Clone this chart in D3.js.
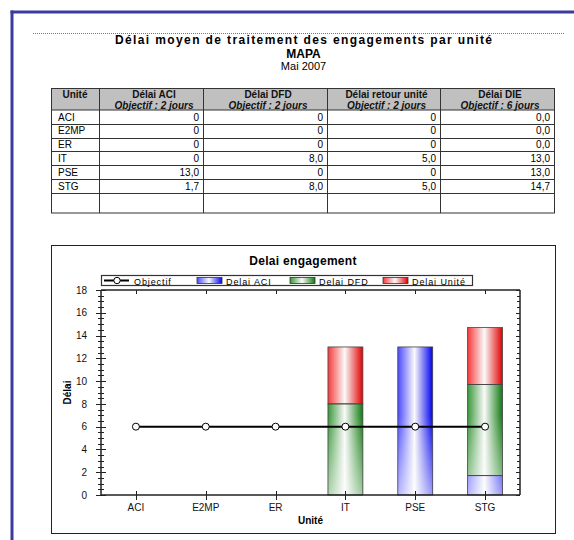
<!DOCTYPE html>
<html><head><meta charset="utf-8">
<script src="https://cdn.jsdelivr.net/npm/d3@7/dist/d3.min.js"></script>
<style>
html,body{margin:0;padding:0;background:#fff;}
svg{display:block;font-family:"Liberation Sans",Arial,sans-serif;}
</style></head>
<body>
<svg id="c" width="574" height="540"></svg>
<script>
// ---- data ----
const units = ["ACI","E2MP","ER","IT","PSE","STG"];
const delaiACI = [0,0,0,0,13.0,1.7];
const delaiDFD = [0,0,0,8.0,0,8.0];
const delaiUnite = [0,0,0,5.0,0,5.0];
const delaiDIE = [0,0,0,13.0,13.0,14.7];
const objectif = [6,6,6,6,6,6];
const tableHeaders = ["Unité","Délai ACI","Délai DFD","Délai retour unité","Délai DIE"];
const tableObjectives = ["","Objectif : 2 jours","Objectif : 2 jours","Objectif : 2 jours","Objectif : 6 jours"];
const yTicks = [0,2,4,6,8,10,12,14,16,18];
const seriesNames = ["Delai ACI","Delai DFD","Delai Unité"];
const seriesColors = [["#4a4aff","#0000ee"],["#3a963a","#107a10"],["#f43a3a","#e00000"]];

const svg = d3.select("#c");
const defs = svg.append("defs");

// page frame
svg.append("rect").attr("x",0).attr("y",0).attr("width",574).attr("height",540).attr("fill","#fff");
svg.append("line").attr("x1",10.5).attr("x2",574).attr("y1",12).attr("y2",12).attr("stroke","#3b3b9e").attr("stroke-width",3);
svg.append("line").attr("x1",12).attr("x2",12).attr("y1",10.5).attr("y2",540).attr("stroke","#3b3b9e").attr("stroke-width",3);
svg.append("line").attr("x1",33).attr("x2",564).attr("y1",33.5).attr("y2",33.5).attr("stroke","#777").attr("stroke-dasharray","1,1");

// titles
svg.append("text").attr("x",303.5).attr("y",44).attr("text-anchor","middle").attr("font-weight","bold").attr("font-size",12).attr("textLength",377).text("Délai moyen de traitement des engagements par unité");
svg.append("text").attr("x",303.5).attr("y",58).attr("text-anchor","middle").attr("font-weight","bold").attr("font-size",12).text("MAPA");
svg.append("text").attr("x",303.5).attr("y",70).attr("text-anchor","middle").attr("font-size",11).text("Mai 2007");

// ---- table ----
const colX = [51,99,203,327,440,554];
const headTop = 88.5, headBot = 110, rowH = 13.8, tableBot = 213;
const fmt = (v, keepDec) => (v===0 && !keepDec) ? "0" : d3.format(".1f")(v).replace(".",",");
const tableRows = units.map((u,i)=>[u, fmt(delaiACI[i]), fmt(delaiDFD[i]), fmt(delaiUnite[i]), fmt(delaiDIE[i],true)]);
const tg = svg.append("g");
tg.append("rect").attr("x",colX[0]).attr("y",headTop).attr("width",colX[5]-colX[0]).attr("height",headBot-headTop).attr("fill","#c0c0c0");
tg.append("rect").attr("x",colX[0]+0.5).attr("y",headTop).attr("width",colX[5]-colX[0]).attr("height",tableBot-headTop).attr("fill","none").attr("stroke","#333").attr("stroke-width",1);
colX.slice(1,5).forEach(x=>tg.append("line").attr("x1",x+0.5).attr("x2",x+0.5).attr("y1",headTop).attr("y2",tableBot).attr("stroke","#333"));
tg.append("line").attr("x1",colX[0]).attr("x2",colX[5]).attr("y1",headBot).attr("y2",headBot).attr("stroke","#333");
d3.range(1,units.length+1).forEach(i=>{
  const y = Math.round(headBot + i*rowH)+0.5;
  tg.append("line").attr("x1",colX[0]).attr("x2",colX[5]).attr("y1",y).attr("y2",y).attr("stroke","#333");
});
tableHeaders.forEach((h,j)=>{
  const cx = (colX[j]+colX[j+1])/2 + (j>0?3:0);
  tg.append("text").attr("x",cx).attr("y",98).attr("text-anchor","middle").attr("font-weight","bold").attr("font-size",10).attr("fill","#111").text(h);
  if(tableObjectives[j]) tg.append("text").attr("x",cx).attr("y",108.5).attr("text-anchor","middle").attr("font-weight","bold").attr("font-style","italic").attr("font-size",10).attr("fill","#111").text(tableObjectives[j]);
});
tableRows.forEach((r,i)=>{
  const y = headBot + i*rowH + 10.5;
  r.forEach((v,j)=>{
    if(j===0) tg.append("text").attr("x",colX[0]+7).attr("y",y).attr("font-size",10).text(v);
    else tg.append("text").attr("x",colX[j+1]-4).attr("y",y).attr("text-anchor","end").attr("font-size",10).text(v);
  });
});

// ---- chart ----
svg.append("rect").attr("x",51.5).attr("y",245.5).attr("width",504).attr("height",288).attr("fill","#fff").attr("stroke","#222");
svg.append("text").attr("x",303).attr("y",265).attr("text-anchor","middle").attr("font-weight","bold").attr("font-size",12).attr("letter-spacing",0.3).text("Delai engagement");

const L = 101, R = 520, T = 290, B = 495;
const x = d3.scaleBand().domain(units).range([L,R]).padding(0);
const y = d3.scaleLinear().domain([0,18]).range([B,T]);
const bw = x.bandwidth()*0.5;
const cx = u => x(u)+x.bandwidth()/2;

// gradients
seriesColors.forEach((c,k)=>{
  const g = defs.append("linearGradient").attr("id","g"+k).attr("x1","0").attr("x2","1").attr("y1","0").attr("y2","0");
  g.append("stop").attr("offset","0%").attr("stop-color",c[0]);
  g.append("stop").attr("offset","48%").attr("stop-color","#fafafa");
  g.append("stop").attr("offset","100%").attr("stop-color",c[1]);
});
const fade = defs.append("linearGradient").attr("id","fade").attr("gradientUnits","userSpaceOnUse")
  .attr("x1",0).attr("x2",0).attr("y1",y(7)).attr("y2",y(0));
fade.append("stop").attr("offset","0%").attr("stop-color","#fff").attr("stop-opacity",0);
fade.append("stop").attr("offset","100%").attr("stop-color","#fff").attr("stop-opacity",0.6);

const stackData = units.map((u,i)=>({unit:u, "0":delaiACI[i], "1":delaiDFD[i], "2":delaiUnite[i]}));
const stacked = d3.stack().keys(["0","1","2"])(stackData);
const bars = svg.append("g");
stacked.forEach((s,k)=>{
  bars.selectAll(null).data(s.filter(d=>d[1]-d[0]>0)).enter().append("rect")
    .attr("x",d=>cx(d.data.unit)-bw/2).attr("width",bw)
    .attr("y",d=>y(d[1])).attr("height",d=>y(d[0])-y(d[1]))
    .attr("fill","url(#g"+k+")");
});
// fade overlay
bars.selectAll(null).data(units.map((u,i)=>({u,t:delaiACI[i]+delaiDFD[i]+delaiUnite[i]})).filter(d=>d.t>0)).enter().append("rect")
  .attr("x",d=>cx(d.u)-bw/2).attr("width",bw).attr("y",d=>y(d.t)).attr("height",d=>y(0)-y(d.t)).attr("fill","url(#fade)");
stacked.forEach((s,k)=>{
  bars.selectAll(null).data(s.filter(d=>d[1]-d[0]>0)).enter().append("rect")
    .attr("x",d=>cx(d.data.unit)-bw/2).attr("width",bw)
    .attr("y",d=>y(d[1])).attr("height",d=>y(d[0])-y(d[1]))
    .attr("fill","none").attr("stroke","#444").attr("stroke-width",0.8);
});

// axes frame lines
const ax = svg.append("g").attr("stroke","#222").attr("fill","none");
ax.append("line").attr("x1",L).attr("x2",R).attr("y1",T).attr("y2",T).attr("stroke-width",1.5);
ax.append("line").attr("x1",L).attr("x2",R).attr("y1",B).attr("y2",B).attr("stroke-width",1.5);
ax.append("line").attr("x1",L).attr("x2",L).attr("y1",T).attr("y2",B).attr("stroke-width",1.5);
ax.append("line").attr("x1",R).attr("x2",R).attr("y1",T).attr("y2",B).attr("stroke-width",1.5);
// y ticks
const minor = d3.range(0,18.01,0.5);
minor.forEach(v=>{
  const major = Math.abs(v%2)<1e-9;
  const yy = Math.round(y(v))+0.5;
  ax.append("line").attr("x1",L-(major?5:3)).attr("x2",L+(major?5:3)).attr("y1",yy).attr("y2",yy);
  ax.append("line").attr("x1",R-(major?4:3)).attr("x2",R).attr("y1",yy).attr("y2",yy);
});
units.forEach(u=>{
  const xx = Math.round(cx(u))+0.5;
  ax.append("line").attr("x1",xx).attr("x2",xx).attr("y1",B-4).attr("y2",B+5);
  ax.append("line").attr("x1",xx).attr("x2",xx).attr("y1",T).attr("y2",T+4);
});
const yAxisG = svg.append("g").attr("transform",`translate(${L},0)`)
  .call(d3.axisLeft(y).tickValues(yTicks).tickSize(0).tickPadding(14));
yAxisG.select(".domain").remove();
yAxisG.selectAll("text").attr("font-size",10).attr("font-family","Liberation Sans, Arial, sans-serif").attr("fill","#111");
const xAxisG = svg.append("g").attr("transform",`translate(0,${B})`)
  .call(d3.axisBottom(x).tickSize(0).tickPadding(9));
xAxisG.select(".domain").remove();
xAxisG.selectAll("text").attr("font-size",10).attr("font-family","Liberation Sans, Arial, sans-serif").attr("fill","#111");
svg.append("text").attr("x",(L+R)/2).attr("y",524).attr("text-anchor","middle").attr("font-weight","bold").attr("font-size",10).text("Unité");
svg.append("text").attr("transform",`translate(71,${(T+B)/2}) rotate(-90)`).attr("text-anchor","middle").attr("font-weight","bold").attr("font-size",10).text("Délai");

// objectif line
const line = d3.line().x((d,i)=>cx(units[i])).y(d=>y(d));
svg.append("path").datum(objectif).attr("d",line).attr("fill","none").attr("stroke","#000").attr("stroke-width",2);
svg.selectAll(null).data(objectif).enter().append("circle").attr("cx",(d,i)=>cx(units[i])).attr("cy",d=>y(d)).attr("r",3.5)
  .attr("fill","#fff").attr("stroke","#000").attr("stroke-width",1);

// legend
const lg = svg.append("g");
lg.append("rect").attr("x",101.5).attr("y",275.5).attr("width",371).attr("height",10).attr("fill","#fff").attr("stroke","#333").attr("stroke-width",1.2);
lg.append("line").attr("x1",104).attr("x2",129).attr("y1",280.5).attr("y2",280.5).attr("stroke","#000").attr("stroke-width",2);
lg.append("circle").attr("cx",117).attr("cy",280.5).attr("r",3.2).attr("fill","#fff").attr("stroke","#000");
lg.append("text").attr("x",134).attr("y",284.5).attr("font-size",9).attr("letter-spacing",0.9).text("Objectif");
const swX = [197,290,383];
seriesNames.forEach((n,k)=>{
  lg.append("rect").attr("x",swX[k]).attr("y",277.5).attr("width",25).attr("height",6).attr("fill","url(#g"+k+")").attr("stroke","#333").attr("stroke-width",0.8);
  lg.append("text").attr("x",swX[k]+29).attr("y",284.5).attr("font-size",9).attr("letter-spacing",0.9).text(n);
});
</script>
</body></html>
